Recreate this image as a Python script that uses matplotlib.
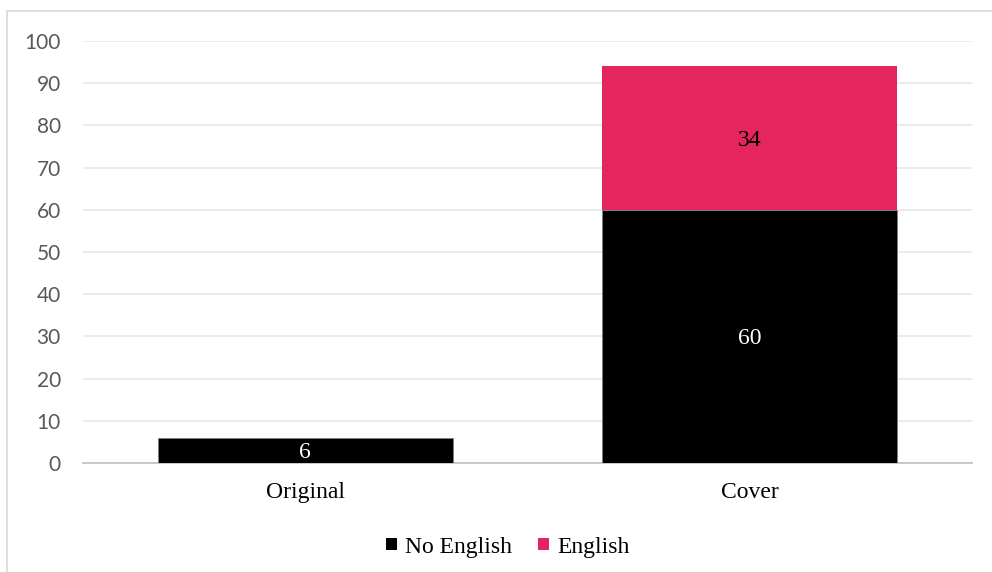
import matplotlib.pyplot as plt
from matplotlib.patches import Rectangle

categories = ['Original', 'Cover']
no_english = [6, 60]
english = [0, 34]
series_names = ['No English', 'English']
yticks = [0, 10, 20, 30, 40, 50, 60, 70, 80, 90, 100]

black = '#000000'
pink = '#e5255e'

fig = plt.figure(figsize=(9.92, 5.72), dpi=100)
ax = fig.add_axes([83 / 992, 1 - 463 / 572, (972 - 83) / 992, (463 - 41) / 572])

# chart border
fig.patches.append(Rectangle((7 / 992, -0.1), 2, 1 - 11 / 572 + 0.1, transform=fig.transFigure,
                             fill=False, edgecolor='#d9d9d9', linewidth=1.2, zorder=0))

x = range(len(categories))
w = 0.664
b1 = ax.bar(x, no_english, w, color=black, edgecolor='#7f7f7f', linewidth=0.6, label=series_names[0], zorder=3)
b2 = ax.bar(x, english, w, bottom=no_english, color=pink, linewidth=0, label=series_names[1], zorder=3)

for i, v in enumerate(no_english):
    ax.text(i, v / 2, str(v), ha='center', va='center_baseline', color='white',
            fontsize=17, family='Liberation Serif', zorder=4)
for i, v in enumerate(english):
    if v > 0:
        ax.text(i, no_english[i] + v / 2, str(v), ha='center', va='center_baseline', color='black',
                fontsize=17, family='Liberation Serif', zorder=4)

ax.set_xlim(-0.5, 1.5)
ax.set_ylim(0, 100)
ax.set_yticks(yticks)
ax.set_xticks(list(x))
ax.set_xticklabels(categories, family='Liberation Serif', fontsize=17, color='black')
for lab in ax.get_yticklabels():
    lab.set_family('Lato')
    lab.set_fontsize(15)
    lab.set_color('#595959')
ax.tick_params(axis='y', length=0, pad=16)
ax.tick_params(axis='x', length=0, pad=14)
ax.grid(axis='y', color='#e6e6e6', linewidth=1.1, zorder=0)
for s in ['top', 'right', 'left']:
    ax.spines[s].set_visible(False)
ax.spines['bottom'].set_color('#bfbfbf')
ax.spines['bottom'].set_linewidth(1.2)

leg = fig.legend(handles=[b1, b2], labels=series_names, loc='center', bbox_to_anchor=(508 / 992, 1 - 547 / 572),
                 ncol=2, frameon=False, prop={'family': 'Liberation Serif', 'size': 17},
                 handlelength=0.45, handleheight=0.45, handletextpad=0.35, columnspacing=1.1)
for h in leg.legend_handles:
    h.set_edgecolor('none')

fig.savefig('out.png', dpi=100)
